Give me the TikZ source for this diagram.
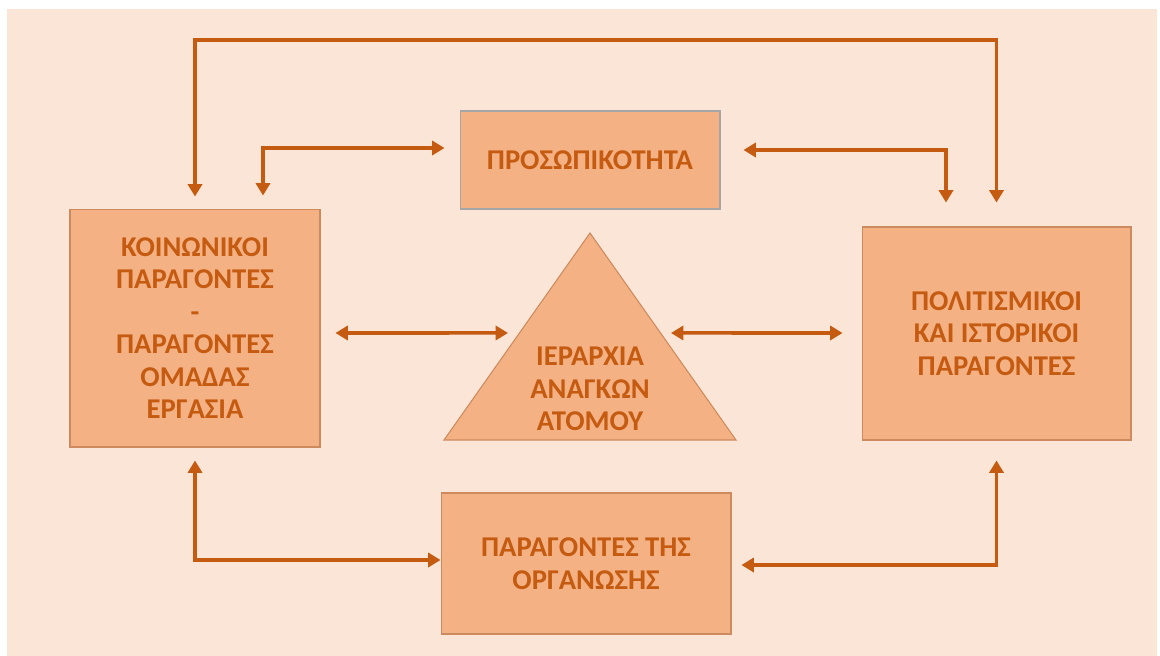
\documentclass[tikz,border=0pt]{standalone}
\usepackage{fontspec}
\setmainfont{Carlito}
\usetikzlibrary{arrows.meta,calc}
\definecolor{peach}{HTML}{FBE5D6}
\definecolor{boxfill}{HTML}{F4B183}
\definecolor{boxline}{HTML}{CC8A5E}
\definecolor{ink}{HTML}{C55A11}
\begin{document}
\begin{tikzpicture}[x=0.02cm, y=-0.02cm,
    box/.style={draw=boxline, fill=boxfill, text=ink, line width=0.6pt, align=center, inner sep=0pt,
        font=\fontsize{16.3}{18.5}\selectfont\bfseries},
    label/.style={text=ink, align=center, inner sep=0pt, font=\fontsize{16.3}{18.5}\selectfont\bfseries},
    link/.style={draw=ink, line width=2pt,
        {Triangle[width=8pt,length=7pt]}-{Triangle[width=8pt,length=7pt]}}]
    \useasboundingbox (0,0) rectangle (1160,656);
    \fill[peach] (7,9) rectangle (1157,656);

    \draw (590,160) node[box, draw=gray!70, minimum width=5.2cm, minimum height=1.96cm] (pers) {ΠΡΟΣΩΠΙΚΟΤΗΤΑ};
    \draw (195,328) node[box, minimum width=5cm, minimum height=4.76cm] (soc)
        {ΚΟΙΝΩΝΙΚΟΙ\\ΠΑΡΑΓΟΝΤΕΣ\\-\\ΠΑΡΑΓΟΝΤΕΣ\\ΟΜΑΔΑΣ\\ΕΡΓΑΣΙΑ};
    \draw (996.5,333.5) node[box, minimum width=5.38cm, minimum height=4.26cm] (cult)
        {ΠΟΛΙΤΙΣΜΙΚΟΙ\\ΚΑΙ ΙΣΤΟΡΙΚΟΙ\\ΠΑΡΑΓΟΝΤΕΣ};
    \draw (586,563.5) node[box, minimum width=5.8cm, minimum height=2.82cm] (org)
        {ΠΑΡΑΓΟΝΤΕΣ ΤΗΣ\\ΟΡΓΑΝΩΣΗΣ};

    % pyramid of needs
    \coordinate (apex) at (590,233);
    \coordinate (base l) at (444,440);
    \coordinate (base r) at (736,440);
    \draw[fill=boxfill, draw=boxline, line width=0.6pt] (apex) -- (base r) -- (base l) -- cycle;
    \draw (590,389) node[label] (need) {ΙΕΡΑΡΧΙΑ\\ΑΝΑΓΚΩΝ\\ΑΤΟΜΟΥ};

    % bend points
    \coordinate (top) at (0,40);
    \coordinate (ltick) at (263,148);
    \coordinate (rtick) at (946,150);
    \coordinate (mid) at (0,333);
    \coordinate (low l) at (0,560);
    \coordinate (low r) at (0,565);

    \draw[link, shorten <=0.24cm, shorten >=0.48cm] (soc.north) -- (soc.north |- top) -- (cult.north |- top) -- (cult.north);
    \draw[link, shorten <=0.26cm, shorten >=0.3cm] (soc.north -| ltick) -- (ltick) -- (pers.west |- ltick);
    \draw[link, shorten <=0.46cm, shorten >=0.48cm] (pers.east |- rtick) -- (rtick) -- (cult.north -| rtick);
    \draw[link, shorten <=0.3cm, shorten >=0.23cm] (soc.east |- mid) -- ($(apex)!.483!(base l)$);
    \draw[link, shorten <=0.21cm, shorten >=0.38cm] ($(apex)!.483!(base r)$) -- (cult.west |- mid);
    \draw[link, shorten <=0.26cm] (soc.south) -- (soc.south |- low l) -- (org.west |- low l);
    \draw[link, shorten <=0.4cm, shorten >=0.2cm] (cult.south) -- (cult.south |- low r) -- (org.east |- low r);
\end{tikzpicture}
\end{document}
